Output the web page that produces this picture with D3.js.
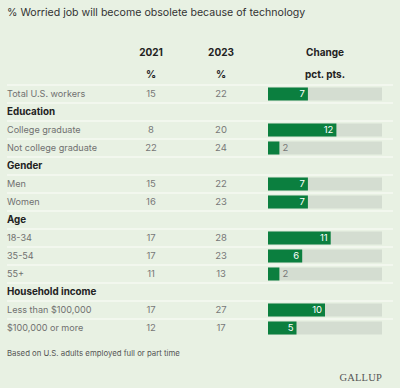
<!DOCTYPE html>
<html><head><meta charset="utf-8">
<script src="https://cdn.jsdelivr.net/npm/d3@7"></script>
<style>body{margin:0;background:#e8f1e3;}svg{display:block;font-family:Inter,"Noto Sans",sans-serif;}</style>
</head><body><svg id="c" width="400" height="388"></svg>
<script>
const title = "% Worried job will become obsolete because of technology";
const rowLabels = ["Total U.S. workers","Education","College graduate","Not college graduate","Gender","Men","Women","Age","18-34","35-54","55+","Household income","Less than $100,000","$100,000 or more"];
const isHeader = [false,true,false,false,true,false,false,true,false,false,false,true,false,false];
const v2021 = [15,null,8,22,null,15,16,null,17,17,11,null,17,12];
const v2023 = [22,null,20,24,null,22,23,null,28,23,13,null,27,17];
const change = [7,null,12,2,null,7,7,null,11,6,2,null,10,5];
const colHeads1 = ["2021","2023","Change"];
const colHeads2 = ["%","%","pct. pts."];
const footnote = "Based on U.S. adults employed full or part time";

const svg = d3.select("#c");
svg.append("rect").attr("width",400).attr("height",388).attr("fill","#e8f1e3");
svg.append("text").attr("x",7).attr("y",16).attr("font-size",10.6).attr("fill","#333").text(title);

const y = d3.scaleBand().domain(d3.range(rowLabels.length)).range([85,85+18*rowLabels.length]);
const x = d3.scaleLinear().domain([0,20]).range([268,382]);
const colX = [151,221,325];

colHeads1.forEach((h,i)=>{
  svg.append("text").attr("x",colX[i]).attr("y",56).attr("text-anchor","middle").attr("font-size",10).attr("font-weight","bold").attr("fill","#222").text(h);
  svg.append("text").attr("x",colX[i]).attr("y",78).attr("text-anchor","middle").attr("font-size",10).attr("font-weight","bold").attr("fill","#222").text(colHeads2[i]);
});

// separators
d3.range(rowLabels.length).forEach(i=>{
  svg.append("line").attr("x1",7).attr("x2",393).attr("y1",y(i)).attr("y2",y(i)).attr("stroke","#fbfdfa").attr("stroke-width",1.2);
});

const g = svg.selectAll("g.row").data(rowLabels).join("g").attr("class","row");
g.append("text").attr("x",7).attr("y",(d,i)=>y(i)+y.bandwidth()/2+3.3)
  .attr("font-size",(d,i)=>isHeader[i]?9.8:9.1).attr("font-weight",(d,i)=>isHeader[i]?"bold":"normal")
  .attr("fill",(d,i)=>isHeader[i]?"#222":"#707070").text(d=>d);
g.filter((d,i)=>!isHeader[i]).each(function(d){
  const i = rowLabels.indexOf(d);
  const s = d3.select(this);
  const cy = y(i)+y.bandwidth()/2;
  s.append("text").attr("x",colX[0]).attr("y",cy+3.3).attr("text-anchor","middle").attr("font-size",9.5).attr("fill","#777").text(v2021[i]);
  s.append("text").attr("x",colX[1]).attr("y",cy+3.3).attr("text-anchor","middle").attr("font-size",9.5).attr("fill","#777").text(v2023[i]);
  s.append("rect").attr("x",x(0)).attr("y",cy-6.5).attr("width",x(20)-x(0)).attr("height",13).attr("fill","#d4ddd1");
  s.append("rect").attr("x",x(0)).attr("y",cy-6.5).attr("width",x(change[i])-x(0)).attr("height",13).attr("fill","#0b7f3f");
  const inside = change[i]>=4;
  s.append("text").attr("x",inside?x(change[i])-3:x(change[i])+3).attr("y",cy+3.3)
    .attr("text-anchor",inside?"end":"start").attr("font-size",9.5)
    .attr("fill",inside?"#fff":"#777").text(change[i]);
});

svg.append("text").attr("x",7).attr("y",356).attr("font-size",7.8).attr("fill","#555").text(footnote);
svg.append("text").attr("x",382).attr("y",381).attr("text-anchor","end").attr("font-family","'Liberation Serif',serif").attr("font-size",10.5).attr("fill","#555").attr("letter-spacing",0.2).text("GALLUP");
</script></body></html>
